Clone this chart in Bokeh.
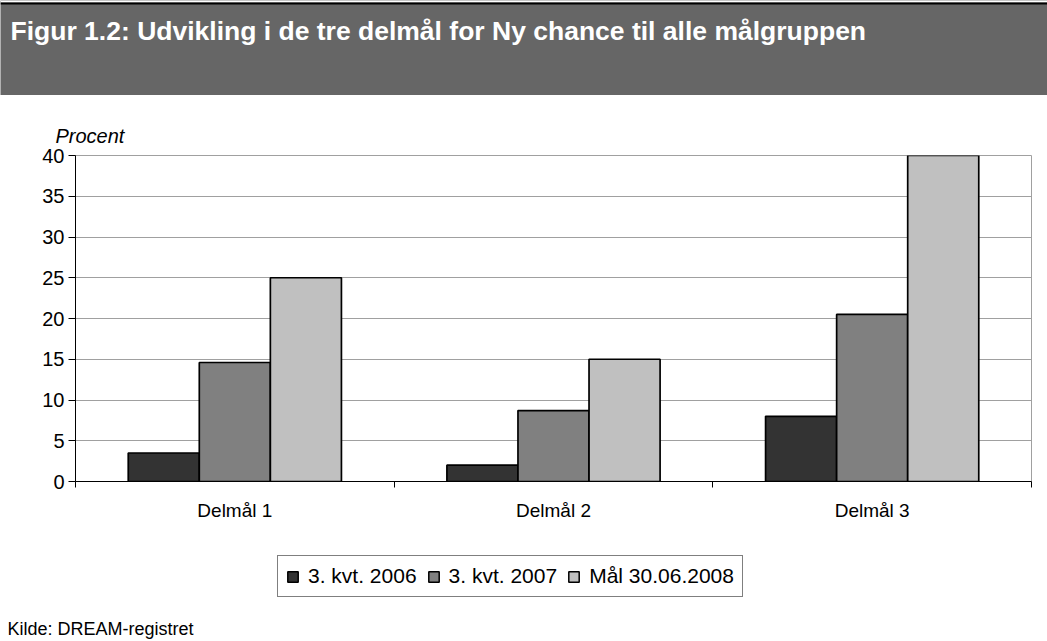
import numpy as np
from bokeh.plotting import figure
from bokeh.models import Range1d, FixedTicker, Label, Legend, LegendItem, Span, BoxAnnotation, Title
from bokeh.embed import file_html
from bokeh.resources import INLINE

# ---- data ----
categories = ["Delmål 1", "Delmål 2", "Delmål 3"]
series_names = ["3. kvt. 2006", "3. kvt. 2007", "Mål 30.06.2008"]
kvt_2006 = [3.5, 2.0, 8.0]
kvt_2007 = [14.6, 8.7, 20.5]
maal_2008 = [25.0, 15.0, 40.0]
series_colors = ["#333333", "#808080", "#c0c0c0"]
y_ticks = [0, 5, 10, 15, 20, 25, 30, 35, 40]
title_text = "Figur 1.2: Udvikling i de tre delmål for Ny chance til alle målgruppen"
y_label = "Procent"
source_text = "Kilde: DREAM-registret"

FONT = "Liberation Sans"
W = 1047
BAND_H = 95
MAIN_H = 440
FOOT_H = 641 - BAND_H - MAIN_H
series = [kvt_2006, kvt_2007, maal_2008]


def bare(fig, fill):
    fig.grid.visible = False
    fig.outline_line_color = None
    fig.background_fill_color = fill
    fig.border_fill_color = fill
    return fig


# ---- title band ----
band = bare(figure(width=W, height=BAND_H, x_range=Range1d(0, W), y_range=Range1d(0, BAND_H),
                   toolbar_location=None, output_backend="svg", min_border=0,
                   x_axis_location=None, y_axis_location=None), "#666666")
band.add_layout(BoxAnnotation(bottom=BAND_H - 2, fill_color="white", fill_alpha=1, line_color=None))
band.add_layout(Span(location=BAND_H - 3, dimension="width", line_color="black", line_width=2))
band.add_layout(Label(x=10, y=BAND_H - 30, text=title_text, text_color="white",
                      text_font=FONT, text_font_size="26.5px", text_font_style="bold",
                      text_baseline="alphabetic"))

# ---- main chart ----
p = figure(width=W, height=MAIN_H, x_range=Range1d(0, len(categories)), y_range=Range1d(0, 40),
           toolbar_location=None, output_backend="svg",
           min_border_left=75, min_border_right=16, min_border_top=60, min_border_bottom=54)
p.background_fill_color = "white"
p.border_fill_color = "white"
p.outline_line_color = "#a0a0a0"
p.xgrid.visible = False
p.ygrid.grid_line_color = "#a0a0a0"
p.ygrid.ticker = FixedTicker(ticks=y_ticks)

x_idx = np.arange(len(categories)) + 0.5
bar_w = 0.223
offsets = [-bar_w, 0.0, bar_w]
for vals, off, col in zip(series, offsets, series_colors):
    p.vbar(x=x_idx + off, top=vals, bottom=0, width=bar_w,
           fill_color=col, line_color="black", line_width=1.7)

# y axis
yax = p.yaxis[0]
yax.ticker = FixedTicker(ticks=y_ticks)
yax.major_tick_out = 7
yax.major_tick_in = 0
yax.minor_tick_line_color = None
yax.axis_line_color = "black"
yax.major_tick_line_color = "black"
yax.major_label_text_font = FONT
yax.major_label_text_font_size = "20px"
yax.major_label_text_color = "black"
yax.major_label_standoff = 4

# x axis
xax = p.xaxis[0]
xax.ticker = FixedTicker(ticks=list(x_idx), minor_ticks=list(range(len(categories) + 1)))
xax.major_label_overrides = {float(x): c for x, c in zip(x_idx, categories)}
xax.major_tick_line_color = None
xax.major_tick_out = 0
xax.major_tick_in = 0
xax.minor_tick_line_color = "black"
xax.minor_tick_out = 6
xax.minor_tick_in = 0
xax.axis_line_color = "black"
xax.major_label_text_font = FONT
xax.major_label_text_font_size = "19px"
xax.major_label_text_color = "black"
xax.major_label_standoff = 12

# "Procent" above the frame (side panel title, not clipped)
p.add_layout(Title(text=y_label, align="left", offset=-20, standoff=17,
                   text_font=FONT, text_font_size="20px", text_font_style="italic",
                   text_color="black"), "above")

# ---- footer: legend + source ----
foot = bare(figure(width=W, height=FOOT_H, x_range=Range1d(0, W), y_range=Range1d(0, FOOT_H),
                   toolbar_location=None, output_backend="svg", min_border=0,
                   x_axis_location=None, y_axis_location=None), "white")
items = []
for vals, col, name in zip(series, series_colors, series_names):
    # hidden copies of the series, only so that the legend can draw its swatches
    r = foot.vbar(x=list(range(len(vals))), top=vals, width=1, fill_color=col,
                  line_color="black", line_width=1.5, visible=False)
    items.append(LegendItem(label=name, renderers=[r]))
legend = Legend(items=items, orientation="horizontal", location=(277, FOOT_H - 62), margin=0,
                padding=8, spacing=10, label_standoff=9, glyph_width=13, glyph_height=13,
                label_text_font=FONT, label_text_font_size="21px", label_height=24,
                inactive_fill_alpha=0, label_text_color="black",
                border_line_color="black", border_line_width=1, background_fill_color="white")
foot.add_layout(legend)
foot.add_layout(Label(x=7, y=FOOT_H - 93, text=source_text, text_font=FONT, text_font_size="18px",
                      text_align="left", text_baseline="middle", text_color="black"))

open("out.html", "w").write(file_html([band, p, foot], INLINE))
